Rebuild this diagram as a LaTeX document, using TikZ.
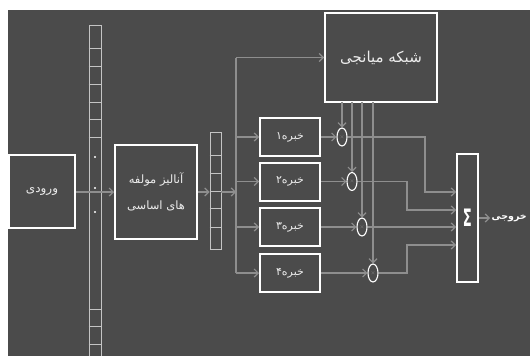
\documentclass[tikz,border=0pt]{standalone}
\usepackage{fontspec}
\usetikzlibrary{arrows.meta,shapes.geometric}
\TeXXeTstate=1
\newfontfamily\fa[Script=Arabic]{DejaVu Sans}
\newfontfamily\dvs{DejaVu Sans}
\definecolor{bg}{HTML}{4B4B4B}
\definecolor{wirec}{HTML}{8E8E8E}
\definecolor{stripc}{HTML}{C4C4C4}
\definecolor{txt}{HTML}{ECECEC}
\begin{document}
\begin{tikzpicture}[x=1pt,y=-1pt,
  box/.style={draw=white, line width=2pt, fill=bg, text=txt, inner sep=0pt, align=center},
  stripbox/.style={draw=stripc, line width=0.9pt, inner sep=0pt},
  wire/.style={draw=wirec, line width=1.6pt},
  arr/.style={wire, -{Straight Barb[length=4pt,width=8pt,line width=1.2pt]}},
  mult/.style={ellipse, draw=white, line width=1.1pt, fill=bg, minimum width=10pt, minimum height=18pt, inner sep=0pt, text=wirec, font=\tiny}
]
\useasboundingbox (0,0) rectangle (530,356);
\fill[white] (0,0) rectangle (530,356);
\fill[bg] (8,10) rectangle (530,356);

% input box
\node[box, minimum width=66pt, minimum height=73pt, font=\fa\fontsize{12}{14}\selectfont] (in) at (42,191) {\beginR ورودی\endR};

% PCA box
\node[box, minimum width=82pt, minimum height=94pt, font=\fa\fontsize{11.5}{14}\selectfont] (pca) at (156,192)
  {\beginR آنالیز مولفه\endR\\[12pt]\beginR های اساسی\endR};

% tall vector strip
\node[stripbox, minimum width=12pt, minimum height=345pt] (v1) at (95,197.5) {};
\foreach \yy in {48,66,84,102,119,137,309,326,344}
  \draw[stripc, line width=0.9pt] (v1.west |- 0,\yy) -- (v1.east |- 0,\yy);
\foreach \yy in {157,188,212}
  \fill[white] (95,\yy) circle (1.2pt);

% small vector strip
\node[stripbox, minimum width=11pt, minimum height=117pt] (v2) at (215.5,190.5) {};
\foreach \yy in {155,173,191,208,227}
  \draw[stripc, line width=0.9pt] (v2.west |- 0,\yy) -- (v2.east |- 0,\yy);

% gating network
\node[box, minimum width=112pt, minimum height=89pt, font=\fa\fontsize{15}{17}\selectfont] (gate) at (381,57.5) {\beginR شبکه میانجی\endR};

% experts
\foreach \i/\yy/\d in {1/137/۱,2/181.5/۲,3/227/۳,4/273/۴}
  \node[box, minimum width=60pt, minimum height=38pt, font=\fa\fontsize{11}{13}\selectfont] (e\i) at (290,\yy) {\beginR خبره\d\endR};

% sum box
\node[box, text=white, minimum width=21pt, minimum height=128pt, font=\dvs\bfseries\fontsize{24}{24}\selectfont] (sum) at (467.5,218) {\scalebox{0.55}[1]{Σ}};

% connectors: input chain
\draw[arr] (in.east |- pca.west) -- (pca.west);
\draw[arr] (pca.east) -- (pca.east -| v2.west);
\coordinate (bt) at (236,57.5);
\coordinate (bb) at (236,273);
\draw[wire] (bt) -- (bb);
\draw[arr] (v2.east |- pca.east) -- (bt |- pca.east);
\draw[arr] (bt) -- (gate.west);
\foreach \i in {1,...,4}
  \draw[arr] (bt |- e\i.west) -- (e\i.west);

% multipliers
\foreach \i/\xx/\yy in {1/342/137,2/352/181.5,3/362/227,4/373/273}{
  \draw[arr] (\xx,102) -- (\xx,{\yy-9.5});
}
\foreach \i/\xx/\yy in {1/342/137,2/352/181.5,3/362/227,4/373/273}
  \node[mult] (m\i) at (\xx,\yy) {$\times$};
\foreach \i in {1,...,4}
  \draw[arr] (e\i.east) -- (m\i.west);

% to sum
\coordinate (s1) at ([yshift=26pt]sum.west);
\coordinate (s2) at ([yshift=8pt]sum.west);
\coordinate (s3) at ([yshift=-9pt]sum.west);
\coordinate (s4) at ([yshift=-27pt]sum.west);
\coordinate (k1) at ([xshift=-31pt]s1);
\coordinate (k2) at ([xshift=-49pt]s2);
\coordinate (k4) at ([xshift=-49pt]s4);
\draw[arr] (m1.east) -| (k1) -- (s1);
\draw[arr] (m2.east) -| (k2) -- (s2);
\draw[arr] (m3.east) -- (s3);
\draw[arr] (m4.east) -| (k4) -- (s4);

% output
\coordinate (o) at ([xshift=11pt]sum.east);
\draw[arr] (sum.east) -- (o);
\node[anchor=west, text=white, inner sep=0pt, font=\fa\bfseries\fontsize{9.5}{11}\selectfont] (outl) at ([xshift=1.5pt]o) {\beginR خروجی\endR};
\end{tikzpicture}
\end{document}
